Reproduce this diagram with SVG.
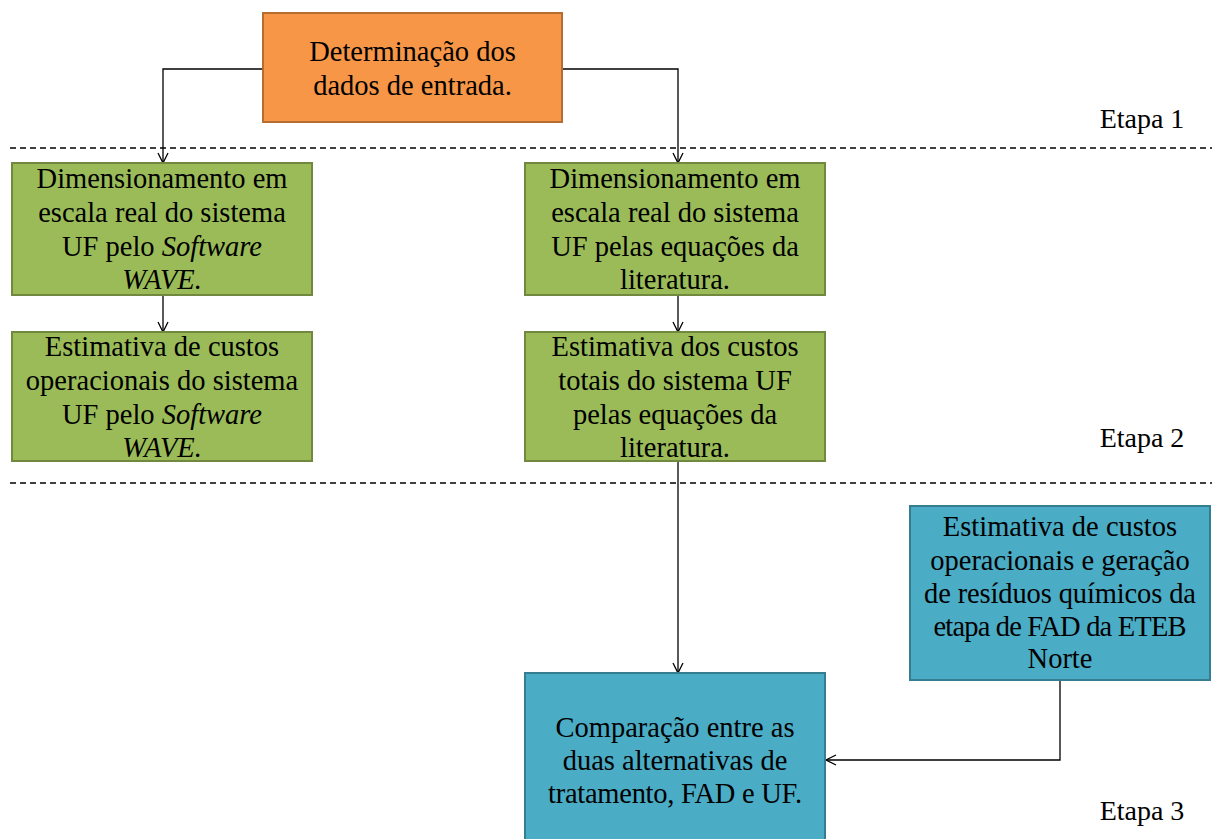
<svg xmlns="http://www.w3.org/2000/svg" width="1212" height="839" viewBox="0 0 1212 839">
  <style>
    text { font-family: 'Liberation Serif', 'Times New Roman', serif; fill: #000; text-anchor: middle; }
    .box-text { font-size: 28.5px; }
    .stage { font-size: 28px; }
    .orange { fill: #F79646; stroke: #B66D31; stroke-width: 2; }
    .green { fill: #9BBB59; stroke: #71893F; stroke-width: 2; }
    .blue { fill: #4BACC6; stroke: #357D91; stroke-width: 2; }
    .sep { stroke: #000; stroke-width: 1.3; stroke-dasharray: 6 4; fill: none; }
    .conn { stroke: #000; stroke-width: 1.3; fill: none; marker-end: url(#arrow); }
  </style>
  <defs>
    <marker id="arrow" viewBox="0 0 12 12" refX="11" refY="6" markerWidth="12" markerHeight="12" markerUnits="userSpaceOnUse" orient="auto">
      <polyline points="1,1 11,6 1,11" fill="none" stroke="#000" stroke-width="1.3"/>
    </marker>
  </defs>
  <rect width="1212" height="839" fill="#fff"/>

  <!-- stage separators -->
  <g id="separators">
    <line class="sep" x1="10" y1="148" x2="1212" y2="148"/>
    <line class="sep" x1="10" y1="483" x2="1212" y2="483"/>
  </g>

  <!-- stage labels -->
  <g id="stage-labels" class="stage">
    <text x="1142" y="128">Etapa 1</text>
    <text x="1142" y="447">Etapa 2</text>
    <text x="1142" y="820">Etapa 3</text>
  </g>

  <!-- connectors -->
  <g id="connectors">
    <polyline class="conn" points="263,69 163,69 163,163"/>
    <polyline class="conn" points="562,69 678,69 678,163"/>
    <line class="conn" x1="163" y1="295" x2="163" y2="332"/>
    <line class="conn" x1="678" y1="295" x2="678" y2="332"/>
    <line class="conn" x1="678" y1="461" x2="678" y2="673"/>
    <polyline class="conn" points="1060,680 1060,760 826,760"/>
  </g>

  <g id="input-data" class="box-text">
    <rect class="orange" x="263" y="13" width="299" height="109"/>
    <text x="412.5" y="61">Determinação dos</text>
    <text x="412.5" y="95">dados de entrada.</text>
  </g>

  <g id="sizing-wave" class="box-text">
    <rect class="green" x="12" y="163" width="300" height="132"/>
    <text x="162" y="188">Dimensionamento em</text>
    <text x="162" y="222">escala real do sistema</text>
    <text x="162" y="256">UF pelo <tspan font-style="italic">Software</tspan></text>
    <text x="162" y="289" font-style="italic">WAVE.</text>
  </g>

  <g id="sizing-literature" class="box-text">
    <rect class="green" x="525" y="163" width="300" height="132"/>
    <text x="675" y="188">Dimensionamento em</text>
    <text x="675" y="222">escala real do sistema</text>
    <text x="675" y="256">UF pelas equações da</text>
    <text x="675" y="289">literatura.</text>
  </g>

  <g id="costs-wave" class="box-text">
    <rect class="green" x="12" y="332" width="300" height="129"/>
    <text x="162" y="356">Estimativa de custos</text>
    <text x="162" y="390">operacionais do sistema</text>
    <text x="162" y="424">UF pelo <tspan font-style="italic">Software</tspan></text>
    <text x="162" y="457" font-style="italic">WAVE.</text>
  </g>

  <g id="costs-literature" class="box-text">
    <rect class="green" x="525" y="332" width="300" height="129"/>
    <text x="675" y="356">Estimativa dos custos</text>
    <text x="675" y="390">totais do sistema UF</text>
    <text x="675" y="424">pelas equações da</text>
    <text x="675" y="457">literatura.</text>
  </g>

  <g id="costs-fad" class="box-text">
    <rect class="blue" x="910" y="506" width="300" height="174"/>
    <text x="1060" y="536">Estimativa de custos</text>
    <text x="1060" y="570">operacionais e geração</text>
    <text x="1060" y="603" textLength="272" lengthAdjust="spacing">de resíduos químicos da</text>
    <text x="1060" y="636" textLength="253" lengthAdjust="spacing">etapa de FAD da ETEB</text>
    <text x="1060" y="668">Norte</text>
  </g>

  <g id="comparison" class="box-text">
    <rect class="blue" x="525" y="673" width="300" height="175"/>
    <text x="675" y="737">Comparação entre as</text>
    <text x="675" y="770">duas alternativas de</text>
    <text x="675" y="803" textLength="254" lengthAdjust="spacing">tratamento, FAD e UF.</text>
  </g>
</svg>
